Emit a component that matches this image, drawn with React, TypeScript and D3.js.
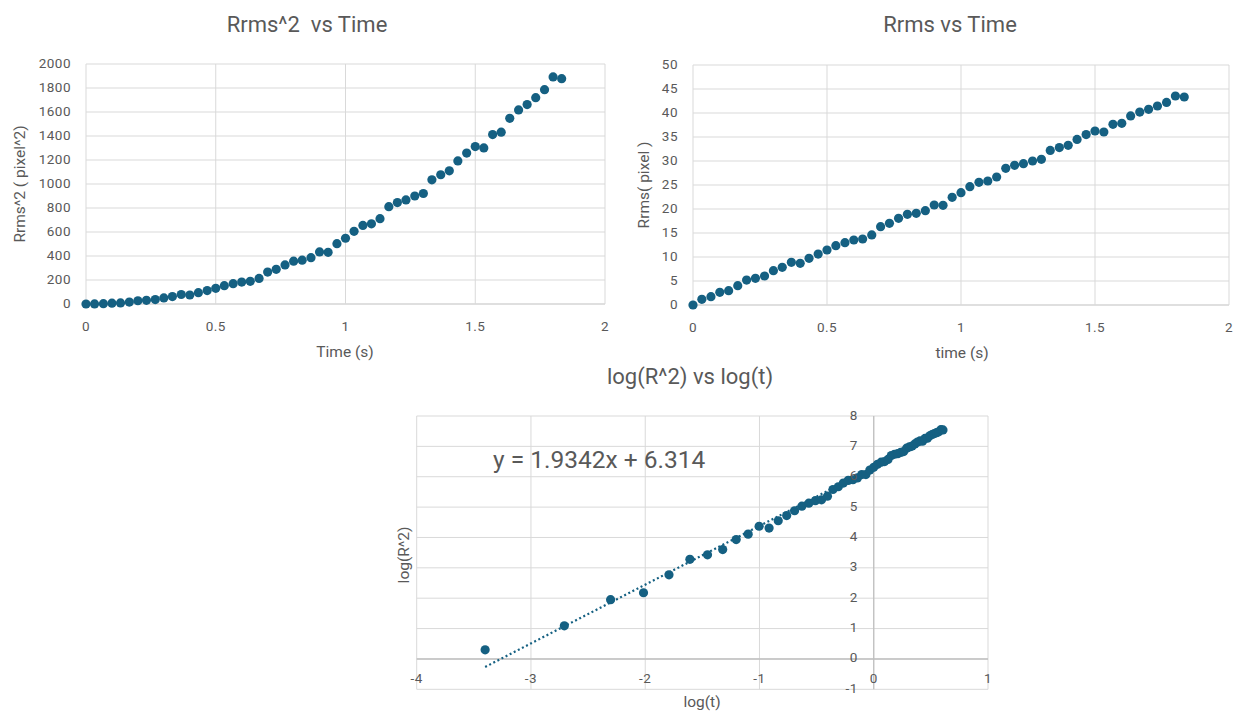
import * as d3 from "d3";

// time (s), one frame every 1/30 s
const timeS = [
  0, 0.033, 0.067, 0.1, 0.133, 0.167, 0.2, 0.233, 0.267, 0.3, 0.333, 0.367, 0.4, 0.433,
  0.467, 0.5, 0.533, 0.567, 0.6, 0.633, 0.667, 0.7, 0.733, 0.767, 0.8, 0.833, 0.867, 0.9,
  0.933, 0.967, 1, 1.033, 1.067, 1.1, 1.133, 1.167, 1.2, 1.233, 1.267, 1.3, 1.333, 1.367,
  1.4, 1.433, 1.467, 1.5, 1.533, 1.567, 1.6, 1.633, 1.667, 1.7, 1.733, 1.767, 1.8, 1.833,
];

// Rrms^2 (pixel^2)
const rrms2 = [
  0, 1, 3, 7, 9, 16, 27, 31, 37, 51, 62, 79, 75, 94, 112, 131, 153, 169, 183, 189, 213, 266,
  289, 326, 357, 365, 386, 434, 431, 503, 548, 606, 655, 668, 711, 811, 845, 867, 900, 921,
  1035, 1077, 1110, 1192, 1258, 1312, 1301, 1412, 1432, 1547, 1617, 1662, 1719, 1786, 1892,
  1878,
];

// Rrms (pixel)
const rrms = [
  0, 1.18, 1.74, 2.64, 2.99, 4.03, 5.2, 5.56, 6.04, 7.15, 7.85, 8.89, 8.68, 9.72, 10.6, 11.46,
  12.36, 12.99, 13.54, 13.75, 14.6, 16.32, 17.01, 18.06, 18.89, 19.1, 19.65, 20.83, 20.76,
  22.43, 23.4, 24.65, 25.56, 25.83, 26.67, 28.47, 29.1, 29.44, 30.0, 30.35, 32.2, 32.8, 33.26,
  34.5, 35.5, 36.25, 36.04, 37.64, 37.85, 39.4, 40.2, 40.76, 41.46, 42.2, 43.54, 43.33,
];

// log(t) and log(R^2), t = 0 left out
const logT = [
  -3.401, -2.708, -2.303, -2.015, -1.792, -1.609, -1.455, -1.322, -1.204, -1.099, -1.003,
  -0.916, -0.836, -0.762, -0.693, -0.629, -0.568, -0.511, -0.457, -0.405, -0.357, -0.31,
  -0.266, -0.223, -0.182, -0.143, -0.105, -0.069, -0.034, 0, 0.033, 0.065, 0.095, 0.125,
  0.154, 0.182, 0.21, 0.236, 0.262, 0.288, 0.312, 0.336, 0.36, 0.383, 0.405, 0.427, 0.449,
  0.47, 0.491, 0.511, 0.531, 0.55, 0.569, 0.588, 0.606,
];
const logR2 = [
  0.3, 1.09, 1.95, 2.18, 2.77, 3.28, 3.43, 3.6, 3.93, 4.11, 4.37, 4.31, 4.55, 4.72, 4.88,
  5.03, 5.13, 5.21, 5.24, 5.36, 5.58, 5.67, 5.79, 5.88, 5.9, 5.96, 6.07, 6.07, 6.22, 6.31,
  6.41, 6.48, 6.5, 6.57, 6.7, 6.74, 6.76, 6.8, 6.83, 6.94, 6.98, 7.01, 7.08, 7.14, 7.18,
  7.17, 7.26, 7.27, 7.35, 7.39, 7.42, 7.45, 7.48, 7.55, 7.54,
];

const timeTicks = [0, 0.5, 1, 1.5, 2];
const rrms2Ticks = [0, 200, 400, 600, 800, 1000, 1200, 1400, 1600, 1800, 2000];
const rrmsTicks = [0, 5, 10, 15, 20, 25, 30, 35, 40, 45, 50];
const logTTicks = [-4, -3, -2, -1, 0, 1];
const logR2Ticks = [-1, 0, 1, 2, 3, 4, 5, 6, 7, 8];

const slope = 1.9342;
const intercept = 6.314;

const BLUE = "#156082";
const GRID = "#d9d9d9";
const AXIS = "#bfbfbf";
const TEXT = "#595959";
const FONT = "Roboto, 'Open Sans', sans-serif";
const TICK = { fontSize: 13.5, letterSpacing: 0.5 };

function TimePanel({ xs, ys, yTicks, yMax, box, title, titleX, xTitle, xTitleX, yTitle, yTitleX }) {
  const x = d3.scaleLinear().domain([0, 2]).range([box.left, box.right]);
  const y = d3.scaleLinear().domain([0, yMax]).range([box.bottom, box.top]);
  return (
    <g fontFamily={FONT} fill={TEXT}>
      <text
        x={titleX}
        y={26}
        fontSize={22}
        textAnchor="middle"
        dominantBaseline="middle"
        style={{ whiteSpace: "pre" }}
      >
        {title}
      </text>
      {yTicks.map((t) => (
        <g key={"y" + t}>
          <line x1={box.left} x2={box.right} y1={y(t)} y2={y(t)} stroke={t === 0 ? AXIS : GRID} />
          <text x={box.left - 15} y={y(t)} {...TICK} textAnchor="end" dominantBaseline="middle">
            {t}
          </text>
        </g>
      ))}
      {timeTicks.map((t) => (
        <g key={"x" + t}>
          <line x1={x(t)} x2={x(t)} y1={box.top} y2={box.bottom} stroke={GRID} />
          <text x={x(t)} y={box.bottom + 23} {...TICK} textAnchor="middle" dominantBaseline="middle">
            {t}
          </text>
        </g>
      ))}
      <text x={xTitleX} y={box.bottom + 49} fontSize={15.5} textAnchor="middle" dominantBaseline="middle">
        {xTitle}
      </text>
      <text
        transform={`translate(${yTitleX},${(box.top + box.bottom) / 2}) rotate(-90)`}
        fontSize={15.5}
        textAnchor="middle"
        dominantBaseline="middle"
      >
        {yTitle}
      </text>
      {xs.map((d, i) => (
        <circle key={i} cx={x(d)} cy={y(ys[i])} r={4.6} fill={BLUE} />
      ))}
    </g>
  );
}

function LogPanel() {
  const box = { left: 416.7, right: 988, top: 416, bottom: 689.3 };
  const x = d3.scaleLinear().domain([-4, 1]).range([box.left, box.right]);
  const y = d3.scaleLinear().domain([-1, 8]).range([box.bottom, box.top]);
  const x0 = x(0);
  const y0 = y(0);
  const fitX = d3.extent(logT) as [number, number];
  const fit = d3
    .line<number>()
    .x((d) => x(d))
    .y((d) => y(slope * d + intercept));
  return (
    <g fontFamily={FONT} fill={TEXT}>
      <text x={690} y={378} fontSize={22} textAnchor="middle" dominantBaseline="middle">
        log(R^2) vs log(t)
      </text>
      {logR2Ticks.map((t) => (
        <line key={"gy" + t} x1={box.left} x2={box.right} y1={y(t)} y2={y(t)} stroke={GRID} />
      ))}
      {logTTicks.map((t) => (
        <line key={"gx" + t} x1={x(t)} x2={x(t)} y1={box.top} y2={box.bottom} stroke={GRID} />
      ))}
      <line x1={box.left} x2={box.right} y1={y0} y2={y0} stroke={AXIS} strokeWidth={1.5} />
      <line x1={x0} x2={x0} y1={box.top} y2={box.bottom} stroke={AXIS} strokeWidth={1.2} />
      <text x={493} y={468} fontSize={24.5} fill={TEXT}>
        y = 1.9342x + 6.314
      </text>
      <path
        d={fit(fitX) ?? ""}
        fill="none"
        stroke={BLUE}
        strokeWidth={2.2}
        strokeDasharray="2 2.6"
      />
      {logT.map((d, i) => (
        <circle key={i} cx={x(d)} cy={y(logR2[i])} r={4.6} fill={BLUE} />
      ))}
      {logTTicks.map((t) => (
        <text key={"lx" + t} x={x(t)} y={y0 + 21} {...TICK} textAnchor="middle" dominantBaseline="middle">
          {t}
        </text>
      ))}
      {logR2Ticks.map((t) => (
        <text key={"ly" + t} x={x0 - 16} y={y(t)} {...TICK} textAnchor="end" dominantBaseline="middle">
          {t}
        </text>
      ))}
      <text x={702} y={703} fontSize={15.5} textAnchor="middle" dominantBaseline="middle">
        log(t)
      </text>
      <text
        transform={`translate(405,555) rotate(-90)`}
        fontSize={15.5}
        textAnchor="middle"
        dominantBaseline="middle"
      >
        log(R^2)
      </text>
    </g>
  );
}

export default function App() {
  return (
    <svg
      width={1233}
      height={712}
      viewBox="0 0 1233 712"
      style={{ position: "absolute", left: 0, top: 0, background: "#fff" }}
    >
      <TimePanel
        xs={timeS}
        ys={rrms2}
        yTicks={rrms2Ticks}
        yMax={2000}
        box={{ left: 86, right: 605, top: 64, bottom: 304 }}
        title="Rrms^2  vs Time"
        titleX={307}
        xTitle="Time (s)"
        xTitleX={345}
        yTitle="Rrms^2 ( pixel^2)"
        yTitleX={21}
      />
      <TimePanel
        xs={timeS}
        ys={rrms}
        yTicks={rrmsTicks}
        yMax={50}
        box={{ left: 693, right: 1229, top: 65, bottom: 305 }}
        title="Rrms vs Time"
        titleX={950}
        xTitle="time (s)"
        xTitleX={962}
        yTitle="Rrms( pixel )"
        yTitleX={645}
      />
      <LogPanel />
    </svg>
  );
}
